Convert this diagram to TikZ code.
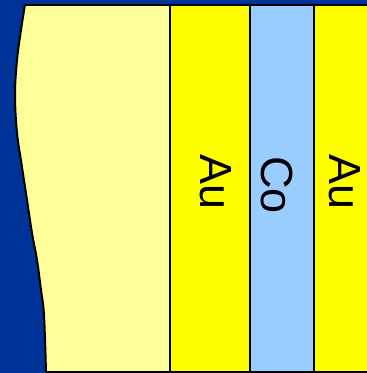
\documentclass[tikz,border=0pt]{standalone}
\usepackage{fontspec}
\setmainfont{Liberation Sans}
\definecolor{bgblue}{HTML}{003399}
\definecolor{paleyellow}{HTML}{FFFF99}
\definecolor{goldlayer}{HTML}{FFFF00}
\definecolor{colayer}{HTML}{99CCFF}
\begin{document}
\begin{tikzpicture}[x=1pt,y=-1pt,
  edge/.style={draw=black,line width=2pt},
  label/.style={font=\fontsize{45}{54}\selectfont,rotate=-90,inner sep=0pt}]
\useasboundingbox (0,0) rectangle (367,373);
\fill[bgblue] (0,0) rectangle (367,373);
% pale substrate with curved left edge
\fill[paleyellow] plot[smooth,tension=0.6] coordinates {(25,4.5) (21,30) (17,60) (15,95) (17,133) (22,167) (27,200) (32,233) (37,260) (41,290) (44,315) (46,371.5)}
  -- (170,371.5) -- (170,4.5) -- cycle;
\fill[goldlayer] (170,4.5) rectangle (250,371.5);
\fill[colayer] (250,4.5) rectangle (314,371.5);
\fill[goldlayer] (314,4.5) rectangle (368,371.5);
\draw[edge,line join=round] plot[smooth,tension=0.6] coordinates {(25,4.5) (21,30) (17,60) (15,95) (17,133) (22,167) (27,200) (32,233) (37,260) (41,290) (44,315) (46,371.5)};
\draw[edge] (24.5,4.5) -- (368,4.5);
\draw[edge] (45,371.5) -- (368,371.5);
\draw[edge] (170,4.5) -- (170,371.5);
\draw[edge] (250,4.5) -- (250,371.5);
\draw[edge] (314,4.5) -- (314,371.5);
\node[label] (au1) at (216,182.5) {Au};
\node[label] (co) at (277,185) {Co};
\node[label] (au2) at (345,182.5) {Au};
\end{tikzpicture}
\end{document}
